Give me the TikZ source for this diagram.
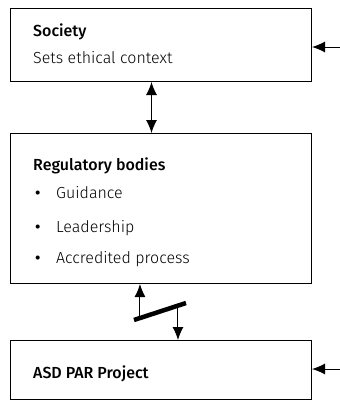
\documentclass[tikz,border=0pt]{standalone}
\usepackage{fontspec}
\setmainfont{Fira Sans Light}[BoldFont=Fira Sans Medium]
\usetikzlibrary{arrows.meta,positioning,calc}
\tikzstyle{box}=[draw=black, line width=1pt, anchor=north west, inner sep=0pt, minimum width=301pt]
\tikzstyle{txt}=[anchor=base west, inner sep=0pt, font=\fontsize{16}{19}\selectfont]
\tikzstyle{conn}=[line width=1pt, -{Latex[length=13pt,width=11pt]}]

\begin{document}
\begin{tikzpicture}[x=1pt, y=-1pt]
        \useasboundingbox (0,0) rectangle (340,400);
        % boxes
        \node[box, minimum height=73pt] (society) at (10,8) {};
        \node[box, minimum height=150pt] (regulatory) at (10,133) {};
        \node[box, minimum height=59pt] (project) at (10,340) {};
        % texts
        \node[txt] (societyhead) at (33,36) {\textbf{Society}};
        \node[txt] (societysub) at (33,63) {Sets ethical context};
        \node[txt] (reghead) at (33,170) {\textbf{Regulatory bodies}};
        \node[txt] (bull1) at (35,198) {\textbf{\textbullet}};
        \node[txt] (item1) at (56,198) {Guidance};
        \node[txt] (bull2) at (35,232) {\textbf{\textbullet}};
        \node[txt] (item2) at (56,232) {Leadership};
        \node[txt] (bull3) at (35,263) {\textbf{\textbullet}};
        \node[txt] (item3) at (56,263) {Accredited process};
        \node[txt] (projhead) at (33,378) {\textbf{ASD PAR Project}};
        %
        \draw[conn, {Latex[length=13pt,width=11pt]}-{Latex[length=13pt,width=11pt]}] ([xshift=-9.5pt]society.south) -- ([xshift=-9.5pt]regulatory.north);
        % barrier
        \coordinate (barleft) at (134,320);
        \coordinate (barright) at (186,303);
        \draw[line width=4.5pt] (barleft) -- (barright);
        \coordinate (upfoot) at ($(barleft)!0.115!(barright)$);
        \coordinate (downfoot) at ($(barleft)!0.846!(barright)$);
        \draw[conn] (upfoot) -- (upfoot |- regulatory.south);
        \draw[conn] (downfoot) -- (downfoot |- project.north);
        % inputs from the right
        \coordinate (inA) at (340,47);
        \coordinate (inB) at (340,369);
        \draw[conn] (inA) -- (inA -| society.east);
        \draw[conn] (inB) -- (inB -| project.east);
\end{tikzpicture}
\end{document}
